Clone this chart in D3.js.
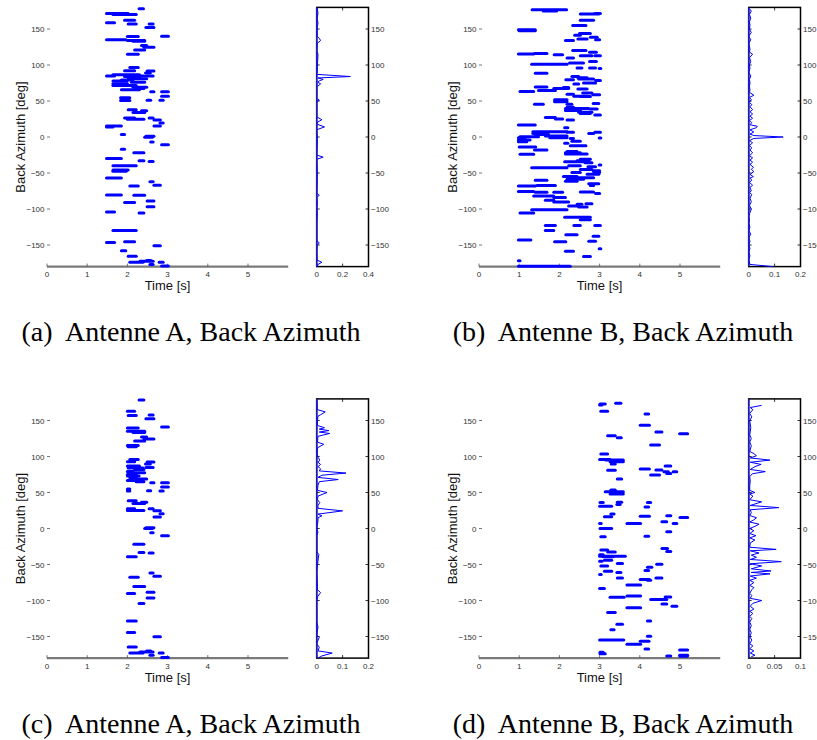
<!DOCTYPE html>
<html><head><meta charset="utf-8">
<script src="https://cdn.jsdelivr.net/npm/d3@7"></script>
<style>body{margin:0;background:#fff}svg{display:block}</style>
</head><body>
<svg id="c" width="817" height="740"></svg>
<script>
// ---------- DATA ----------
const timeTicks = [0,1,2,3,4,5];
const azTicks = [-150,-100,-50,0,50,100,150];
const histTicksA = [0,0.2,0.4];
const histTicksB = [0,0.1,0.2];
const histTicksC = [0,0.1,0.2];
const histTicksD = [0,0.05,0.1];
const captions = ["(a)  Antenne A, Back Azimuth","(b)  Antenne B, Back Azimuth","(c)  Antenne A, Back Azimuth","(d)  Antenne B, Back Azimuth"];
const xTitle = "Time [s]";
const yTitle = "Back Azimuth [deg]";

// segments: [start time, end time, back azimuth]
const segA = [
[2.29,2.40,178],[1.48,2.02,171.6],[1.64,2.22,170],[1.93,2.18,162],[1.48,1.68,158.6],[2.02,2.22,157],
[2.54,2.64,157],[2.46,2.66,152],[2.85,3.02,140],[2.00,2.27,139.5],[1.48,1.96,135],[2.00,2.43,134],
[2.14,2.43,133],[2.35,2.48,127],[2.41,2.66,124.6],[2.18,2.43,121],[2.00,2.27,115],[2.06,2.27,96.7],
[1.93,2.18,92],[2.49,2.66,91.6],[2.45,2.57,89],[1.64,2.30,86.5],[1.48,1.68,84.6],[1.93,2.30,84],
[2.31,2.41,84.6],[2.46,2.64,84.6],[2.02,2.48,81],[1.85,2.14,79],[1.64,1.99,77.7],[2.10,2.43,76],
[1.64,2.00,74],[1.64,2.22,71.6],[2.14,2.48,69],[2.22,2.41,67.4],[1.85,2.30,65.6],[2.58,2.66,62.8],
[2.85,3.02,62.8],[2.85,3.02,56.7],[1.83,2.06,54.4],[1.83,2.06,50.7],[2.49,2.58,51],[2.81,2.89,51],
[2.02,2.22,37.7],[2.35,2.48,36.3],[2.14,2.43,34],[1.93,2.18,26.5],[2.00,2.41,24.7],[2.54,2.64,26.5],
[2.66,2.82,23.7],[2.81,2.89,19.5],[1.48,1.85,15.3],[1.48,1.64,14],[2.66,2.82,15.3],[1.85,1.93,3.3],
[2.46,2.66,1],[2.43,2.62,-0.5],[2.58,2.64,-7],[2.85,3.02,-10.7],[1.85,1.93,-17],[2.16,2.41,-22],
[1.48,1.85,-29.8],[2.29,2.41,-33],[2.54,2.64,-34],[1.64,2.22,-40],[1.64,2.02,-46],[1.64,1.97,-47.4],
[1.48,1.85,-57],[2.56,2.64,-62],[2.66,2.82,-67],[2.06,2.27,-68],[1.48,1.85,-80.5],[2.16,2.43,-81],
[2.49,2.66,-89],[1.93,2.18,-91],[2.49,2.66,-97],[1.48,1.68,-104],[2.29,2.41,-105.6],[1.64,2.22,-130],
[1.48,1.68,-146.5],[1.93,2.18,-145.6],[2.66,2.82,-151],[1.85,1.96,-158],[2.02,2.22,-165.6],
[2.31,2.64,-172.6],[2.06,2.39,-174],[2.79,2.89,-174],[2.48,2.58,-171.6],[2.56,2.64,-177],[2.85,3.02,-179]
];
const segB = [
[1.32,2.18,176.7],[1.60,1.93,175],[2.52,2.98,170.7],[2.88,3.02,171.6],[2.52,2.85,162],[2.33,2.66,155],
[0.98,1.40,149],[1.00,1.40,147.4],[2.50,2.77,143.7],[2.38,2.52,141.4],[2.77,2.94,138.6],[2.46,2.69,136],
[2.90,3.00,135],[2.15,2.35,134],[2.33,2.66,120],[2.75,2.92,117.7],[0.98,1.36,115.3],[1.38,1.69,115.8],
[1.87,2.08,114.4],[2.52,2.81,113],[2.88,3.02,113],[2.19,2.35,109.8],[2.75,2.92,105],[2.25,2.60,102.8],
[1.31,2.19,101],[2.44,2.56,96],[2.75,2.90,96],[2.99,3.03,95.3],[1.40,1.69,88.4],[2.31,2.48,84],
[2.46,2.69,82.3],[2.48,2.85,80.5],[2.90,3.02,78.6],[2.16,2.35,79.5],[2.36,2.48,73.5],[2.60,2.90,75],
[1.40,1.69,69.3],[1.86,2.23,67.4],[2.10,2.23,68.8],[2.46,2.69,66.5],[1.48,1.90,64.7],[1.02,1.36,63.3],
[2.58,2.81,61],[2.19,2.35,59.5],[2.83,3.00,58.6],[2.36,2.69,56.7],[2.52,2.77,56.3],[1.88,2.19,51.6],
[1.88,2.19,48.8],[2.84,2.98,46.5],[1.38,1.60,45.6],[2.19,2.31,45.6],[2.19,2.35,41.4],[2.15,2.73,39.5],
[2.77,2.94,39],[2.15,2.52,36.7],[2.48,2.81,34.4],[2.52,2.77,32.6],[2.88,3.02,30.7],[1.65,1.90,27],
[1.90,2.08,25],[2.19,2.35,23.7],[0.98,1.40,16.7],[2.13,2.21,13],[1.34,2.19,7.4],[2.19,2.35,6.5],
[2.88,3.02,6.5],[2.73,2.85,5],[1.34,1.69,5],[1.40,1.73,3.3],[1.65,2.19,1.4],[1.02,1.48,0.5],
[1.76,2.19,-1],[0.98,1.15,-1],[2.99,3.03,-1.4],[2.27,2.35,-2],[0.98,1.27,-4],[0.98,1.19,-6.5],
[2.31,2.52,-6],[2.13,2.21,-8.8],[2.27,2.66,-12],[1.00,1.41,-14],[1.38,1.69,-18],[2.19,2.44,-20],
[2.15,2.52,-22],[1.02,1.36,-24],[2.15,2.69,-23.7],[2.52,2.77,-31],[2.44,2.73,-33],[2.13,2.66,-34.4],
[2.64,2.81,-35.8],[2.23,2.52,-40],[2.99,3.03,-39],[1.31,2.19,-42.8],[2.71,2.90,-41.4],[2.52,2.81,-45],
[2.84,3.00,-47],[2.31,2.52,-49.3],[2.86,3.00,-49.3],[2.69,2.98,-51.6],[2.10,2.44,-55],[2.44,2.85,-56.7],
[2.19,2.60,-58.6],[1.40,1.69,-60],[2.15,2.44,-61.4],[2.73,2.98,-65],[0.98,1.40,-68],[1.44,1.90,-67.4],
[2.77,2.85,-67.4],[0.98,1.36,-75.8],[1.40,1.69,-76.7],[1.86,2.08,-76.7],[2.52,2.85,-76.3],[2.90,3.00,-78.6],
[1.36,1.86,-81.8],[1.86,2.15,-84],[1.65,1.86,-88],[1.86,2.23,-90.2],[2.66,2.81,-92.6],[2.44,2.56,-93.5],
[2.23,2.48,-95.8],[2.48,2.69,-97.2],[1.31,2.19,-101],[1.02,1.36,-105.6],[2.13,2.77,-111.6],[2.52,2.77,-115],
[1.65,1.90,-122.8],[2.36,2.52,-122.8],[2.88,3.02,-122.8],[1.65,1.86,-130],[2.16,2.44,-135.8],[2.84,2.98,-138],
[0.98,1.29,-143],[1.88,2.16,-145.6],[2.73,2.90,-144.7],[2.99,3.03,-155.3],[2.15,2.35,-158.6],[2.60,2.77,-166],
[0.98,1.02,-172],[0.98,2.27,-179.5]
];
const segC = [
[2.29,2.41,178.5],[2.00,2.18,162.7],[2.02,2.22,157],[2.54,2.64,157.6],[2.46,2.66,152.5],[2.85,3.02,141],
[2.00,2.27,139.5],[2.00,2.43,135],[2.14,2.43,133.5],[2.35,2.48,127],[2.41,2.66,124.2],[2.18,2.43,121.5],
[2.00,2.27,115.4],[2.02,2.22,113.5],[2.06,2.27,96],[2.00,2.18,92.7],[2.49,2.66,92.3],[2.45,2.57,89.5],
[2.00,2.30,86.7],[2.46,2.64,84.8],[2.02,2.39,84],[2.18,2.41,82],[2.00,2.14,79],[2.02,2.43,77.4],
[2.00,2.22,75],[2.00,2.29,72.8],[2.06,2.22,70.5],[2.14,2.48,68.6],[2.00,2.39,66.8],[2.22,2.41,65],
[2.58,2.66,63.5],[2.85,3.02,63.5],[2.85,3.02,57.5],[2.00,2.06,55],[2.00,2.06,52],[2.50,2.58,52.4],
[2.81,2.89,52],[2.02,2.22,38.5],[2.35,2.48,36.6],[2.14,2.43,34.8],[2.00,2.18,27.4],[2.00,2.41,25],
[2.54,2.64,27.4],[2.66,2.82,24.6],[2.81,2.89,20.4],[2.66,2.82,15.8],[2.46,2.66,1],[2.43,2.62,0],
[2.58,2.64,-6],[2.85,3.02,-10.2],[2.16,2.41,-21.8],[2.29,2.41,-33.4],[2.54,2.64,-34],[2.00,2.22,-39.4],
[2.56,2.64,-61.7],[2.66,2.82,-66.3],[2.06,2.27,-67.7],[2.16,2.43,-80.7],[2.49,2.66,-88.5],[2.00,2.18,-90.4],
[2.49,2.66,-96.4],[2.29,2.41,-104.3],[2.00,2.22,-128.4],[2.00,2.18,-144.6],[2.66,2.82,-150.2],[2.02,2.22,-164.6],
[2.31,2.64,-171.5],[2.06,2.39,-173],[2.79,2.89,-173],[2.48,2.58,-170],[2.56,2.64,-176],[2.85,3.02,-179]
];
const segD = [
[3.40,3.53,173.9],[3.01,3.14,173],[3.00,3.06,171.5],[3.03,3.20,163],[4.13,4.22,159],[4.01,4.24,143.3],
[4.40,4.55,134],[4.99,5.19,131.7],[3.20,3.39,128.9],[3.44,3.54,126],[4.27,4.49,116],[3.03,3.20,103.4],
[3.00,3.26,96],[3.15,3.59,95],[3.26,3.59,92.7],[3.29,3.39,89.5],[3.20,3.39,81],[4.01,4.24,82.5],
[4.63,4.77,86.7],[4.40,4.55,81.1],[4.60,4.71,78.8],[4.83,4.92,78.8],[4.67,4.77,76.5],[4.27,4.49,74.2],
[3.44,3.55,68.6],[3.28,3.39,53.3],[3.14,3.59,51],[3.26,3.59,47.8],[3.01,3.09,36],[3.44,3.55,36.6],
[3.43,3.51,33.4],[3.00,3.30,31],[4.13,4.22,30],[4.19,4.27,36],[3.28,3.36,20],[3.12,3.30,16.2],
[4.01,4.24,17],[4.67,4.77,17.6],[5.00,5.19,15.3],[4.55,4.67,9.3],[3.68,4.02,7],[4.83,4.92,7],
[3.00,3.04,7],[3.01,3.30,0],[4.67,4.77,-4.6],[4.13,4.22,-10.7],[3.03,3.14,-11.6],[4.55,4.69,-27.8],
[3.03,3.20,-30],[3.20,3.39,-32.5],[4.67,4.77,-32],[3.00,3.09,-36.6],[3.00,3.64,-38.5],[3.09,3.34,-39.4],
[3.12,3.30,-44],[3.00,3.06,-45.4],[3.44,3.57,-48.7],[4.42,4.55,-49.6],[3.03,3.20,-52],[4.19,4.30,-53.8],
[3.12,3.30,-59.3],[3.43,3.53,-61.2],[4.13,4.22,-58.4],[3.44,3.57,-68.6],[4.40,4.55,-68.6],[3.00,3.04,-64],
[4.01,4.24,-71],[4.19,4.27,-71.9],[3.68,4.02,-78.4],[3.00,3.12,-83.5],[3.68,4.02,-93.6],[3.26,3.61,-95.5],
[4.63,4.77,-95],[4.27,4.67,-98.7],[4.55,4.67,-104.8],[4.80,4.92,-108],[3.68,4.02,-110],[3.20,3.39,-116.8],
[4.19,4.27,-128.4],[3.43,3.57,-133],[3.28,3.36,-140.5],[4.19,4.27,-149.7],[3.00,3.60,-154.8],[4.01,4.23,-156.7],
[3.68,4.02,-160.9],[4.13,4.22,-167.4],[4.99,5.19,-168.8],[3.01,3.09,-172],[3.01,3.14,-174],[4.99,5.19,-176.2],
[4.67,4.77,-177],[5.00,5.18,-177.5]
];

// histograms: [back azimuth, relative frequency]
const histA = [
[-180,0.005],[-177,0.01],[-174,0.04],[-171,0.003],[-160,0],[-150,0.004],[-147,0.02],[-144,0],[-120,0],
[-105,0.005],[-100,0],[-90,0.005],[-84,0],[-81,0.02],[-78,0],[-60,0.004],[-45,0.004],[-31,0],[-28,0.05],
[-25,0],[-10,0.004],[0,0.004],[10,0],[14,0.06],[18,0],[21,0.01],[24,0.04],[28,0],[49,0],[51,0.02],[54,0],
[70,0],[72,0.02],[74,0.03],[76,0.008],[78,0.02],[80,0.05],[82,0.01],[84,0.26],[87,0],[92,0.005],[97,0.005],
[115,0.01],[120,0],[130,0.005],[134,0.03],[137,0.02],[140,0.004],[152,0.004],[158,0.01],[165,0.004],
[172,0.01],[180,0.004]
];
const histB = [
[-180,0.095],[-177,0.005],[-170,0],[-165,0.005],[-160,0],[-155,0.005],[-150,0],[-145,0.005],[-140,0],
[-135,0.008],[-130,0],[-125,0.005],[-120,0],[-115,0.003],[-110,0],[-105,0.005],[-100,0.01],[-95,0.003],
[-90,0.01],[-85,0.005],[-80,0.012],[-77,0.003],[-75,0.01],[-70,0.005],[-67,0.015],[-63,0.003],[-60,0.012],
[-57,0.005],[-55,0.018],[-52,0.005],[-48,0.02],[-45,0.01],[-42,0.018],[-38,0.005],[-35,0.015],[-32,0.005],
[-29,0.015],[-26,0.003],[-22,0.015],[-18,0.005],[-15,0.012],[-12,0.003],[-8,0.015],[-5,0.003],[-2,0.02],
[0,0.133],[2,0.02],[4,0.005],[7,0.02],[10,0.005],[13,0.03],[15,0.033],[17,0.005],[20,0.012],[23,0.003],
[26,0.015],[29,0.005],[32,0.015],[35,0.005],[38,0.015],[42,0.005],[45,0.012],[48,0.003],[52,0.01],
[55,0.003],[58,0.02],[62,0.003],[65,0.005],[70,0.003],[75,0.005],[80,0.003],[85,0.008],[90,0],[95,0.005],
[100,0.003],[105,0.008],[110,0.003],[115,0.015],[118,0.003],[122,0.005],[130,0],[135,0.008],[140,0],
[145,0.01],[150,0.003],[155,0.005],[160,0.003],[165,0.008],[170,0.003],[175,0.01],[178,0.003]
];
const histC = [
[-180,0.005],[-177,0.02],[-173,0.06],[-170,0.005],[-165,0.01],[-160,0],[-151,0.01],[-148,0],[-137,0.005],
[-130,0],[-100,0],[-95,0.003],[-89,0.015],[-85,0.003],[-80,0.003],[-60,0],[-36,0.008],[-32,0],[-10,0],
[-5,0.005],[0,0],[10,0.005],[15,0.005],[17.6,0.02],[20,0.005],[24.5,0.1],[28,0.005],[32,0.005],[36,0.012],
[40,0.003],[45,0.005],[50,0.04],[53,0.003],[60,0.005],[65,0.01],[68,0.083],[71,0.005],[74,0.02],[77,0.113],
[80,0.01],[83,0.015],[86,0.005],[89,0.015],[92,0.005],[95,0.012],[99,0.005],[104,0.002],[112,0.003],
[117,0.027],[120,0.003],[128,0.005],[132,0.05],[134,0.01],[136,0.047],[138,0.01],[140,0.03],[143,0.003],
[150,0.003],[156,0.005],[158,0.015],[162,0.033],[165,0.003],[170,0.002],[180,0]
];
const histD = [
[-178,0.005],[-176,0.012],[-173,0.003],[-170,0.01],[-167,0.002],[-163,0.008],[-160,0.002],[-155,0.006],
[-150,0.002],[-145,0.005],[-140,0.002],[-135,0.005],[-130,0.002],[-125,0.006],[-122,0.002],[-118,0.008],
[-115,0.002],[-112,0.01],[-108,0.003],[-104,0.008],[-100,0.025],[-97,0.003],[-93,0.006],[-90,0.002],
[-85,0.006],[-82,0.01],[-79,0.002],[-75,0.01],[-72,0.002],[-69,0.015],[-66,0.003],[-63,0.041],[-61,0.005],
[-59,0.043],[-56,0.005],[-52,0.025],[-49,0.003],[-46,0.063],[-43,0.003],[-40,0.015],[-37,0.005],[-34,0.02],
[-31,0.003],[-29,0.053],[-26,0.002],[-20,0.003],[-16,0.012],[-13,0.002],[-10,0.014],[-7,0.002],[-3,0.01],
[0,0.002],[3,0.012],[6,0.02],[9,0.002],[12,0.01],[15,0.015],[18,0.002],[22,0.005],[26,0.003],[29,0.058],
[32,0.003],[37,0.025],[40,0.002],[45,0.008],[48,0.002],[50,0.012],[53,0.002],[60,0.002],[66,0.003],
[72,0.002],[76,0.007],[79,0.032],[82,0.003],[86,0.012],[89,0.024],[92,0.003],[95,0.041],[98,0.003],
[101,0.015],[104,0.01],[107,0.002],[115,0.005],[120,0.002],[125,0.005],[130,0.002],[140,0.004],
[150,0.002],[155,0.006],[160,0.002],[165,0.008],[168,0.003],[171,0.025]
];

// ---------- DRAW ----------
const svg = d3.select("#c");
const BLUE = "#0000ff";
const SANS = "'Liberation Sans', Arial, Helvetica, sans-serif";
const SERIF = "'Liberation Serif', 'Times New Roman', serif";

const panels = [
  {seg:segA, hist:histA, hTicks:histTicksA, hMax:0.4, ox:0,   oy:0,   cap:captions[0]},
  {seg:segB, hist:histB, hTicks:histTicksB, hMax:0.2, ox:432, oy:0,   cap:captions[1]},
  {seg:segC, hist:histC, hTicks:histTicksC, hMax:0.2, ox:0,   oy:391.5, cap:captions[2]},
  {seg:segD, hist:histD, hTicks:histTicksD, hMax:0.1, ox:432, oy:391.5, cap:captions[3]}
];
const fmtTick = v => (v < 0 ? "\u2212" + Math.abs(v) : String(v));

panels.forEach(p => {
  const g = svg.append("g").attr("transform", `translate(${p.ox},${p.oy})`);
  const x = d3.scaleLinear().domain([0, 6]).range([47, 288.2]);
  const y = d3.scaleLinear().domain([-180, 180]).range([266.6, 7.4]);
  const hx = d3.scaleLinear().domain([0, p.hMax]).range([316.7, 368.5]);

  // main axes: bottom axis line (gray)
  g.append("line").attr("x1", x(0)).attr("x2", x(6)).attr("y1", y(-180)).attr("y2", y(-180))
    .attr("stroke", "#7a7a7a").attr("stroke-width", 2.2);
  // x ticks
  timeTicks.forEach(t => {
    g.append("line").attr("x1", x(t)).attr("x2", x(t)).attr("y1", y(-180)).attr("y2", y(-180) - 3)
      .attr("stroke", "#555").attr("stroke-width", 0.8);
    g.append("text").attr("x", x(t)).attr("y", 277).attr("text-anchor", "middle")
      .attr("font-family", SANS).attr("font-size", 8).attr("fill", "#333").text(fmtTick(t));
  });
  // y ticks
  azTicks.forEach(a => {
    g.append("line").attr("x1", x(0)).attr("x2", x(0) + 3).attr("y1", y(a)).attr("y2", y(a))
      .attr("stroke", "#555").attr("stroke-width", 0.8);
    g.append("text").attr("x", 44.5).attr("y", y(a) + 3).attr("text-anchor", "end")
      .attr("font-family", SANS).attr("font-size", 8).attr("fill", "#333").text(fmtTick(a));
  });
  // titles
  g.append("text").attr("x", 167.5).attr("y", 290).attr("text-anchor", "middle")
    .attr("font-family", SANS).attr("font-size", 13).attr("fill", "#111").text(xTitle);
  g.append("text").attr("transform", `translate(24.5,${y(0)}) rotate(-90)`).attr("text-anchor", "middle")
    .attr("font-family", SANS).attr("font-size", 13).attr("fill", "#111").text(yTitle);

  // segments
  g.append("g").selectAll("line").data(p.seg).join("line")
    .attr("x1", d => x(d[0])).attr("x2", d => x(d[1]))
    .attr("y1", d => y(d[2])).attr("y2", d => y(d[2]))
    .attr("stroke", BLUE).attr("stroke-width", 3).attr("stroke-linecap", "round");

  // histogram box
  g.append("rect").attr("x", hx(0)).attr("y", y(180)).attr("width", hx(p.hMax) - hx(0))
    .attr("height", y(-180) - y(180)).attr("fill", "none").attr("stroke", "#000").attr("stroke-width", 1.5);
  p.hTicks.forEach(v => {
    g.append("line").attr("x1", hx(v)).attr("x2", hx(v)).attr("y1", y(-180)).attr("y2", y(-180) - 3)
      .attr("stroke", "#000").attr("stroke-width", 0.8);
    g.append("line").attr("x1", hx(v)).attr("x2", hx(v)).attr("y1", y(180)).attr("y2", y(180) + 3)
      .attr("stroke", "#000").attr("stroke-width", 0.8);
    g.append("text").attr("x", hx(v)).attr("y", 277).attr("text-anchor", "middle")
      .attr("font-family", SANS).attr("font-size", 8).attr("fill", "#333").text(String(v));
  });
  azTicks.forEach(a => {
    g.append("line").attr("x1", hx(0)).attr("x2", hx(0) + 3).attr("y1", y(a)).attr("y2", y(a))
      .attr("stroke", "#000").attr("stroke-width", 0.8);
    g.append("line").attr("x1", hx(p.hMax)).attr("x2", hx(p.hMax) - 3).attr("y1", y(a)).attr("y2", y(a))
      .attr("stroke", "#000").attr("stroke-width", 0.8);
    g.append("text").attr("x", hx(p.hMax) + 2.5).attr("y", y(a) + 3).attr("text-anchor", "start")
      .attr("font-family", SANS).attr("font-size", 8).attr("fill", "#333").text(fmtTick(a));
  });
  const line = d3.line().x(d => hx(d[1])).y(d => y(d[0]));
  g.append("path").datum(p.hist).attr("d", line).attr("fill", "none")
    .attr("stroke", BLUE).attr("stroke-width", 1);
  g.append("line").attr("x1", hx(0)).attr("x2", hx(0)).attr("y1", y(180)).attr("y2", y(-180))
    .attr("stroke", "#1a1acc").attr("stroke-width", 1.5);

  // caption
  g.append("text").attr("x", 191).attr("y", 341).attr("text-anchor", "middle")
    .attr("font-family", SERIF).attr("font-size", 28).attr("fill", "#000").attr("xml:space", "preserve")
    .text(p.cap);
});
</script>
</body></html>
